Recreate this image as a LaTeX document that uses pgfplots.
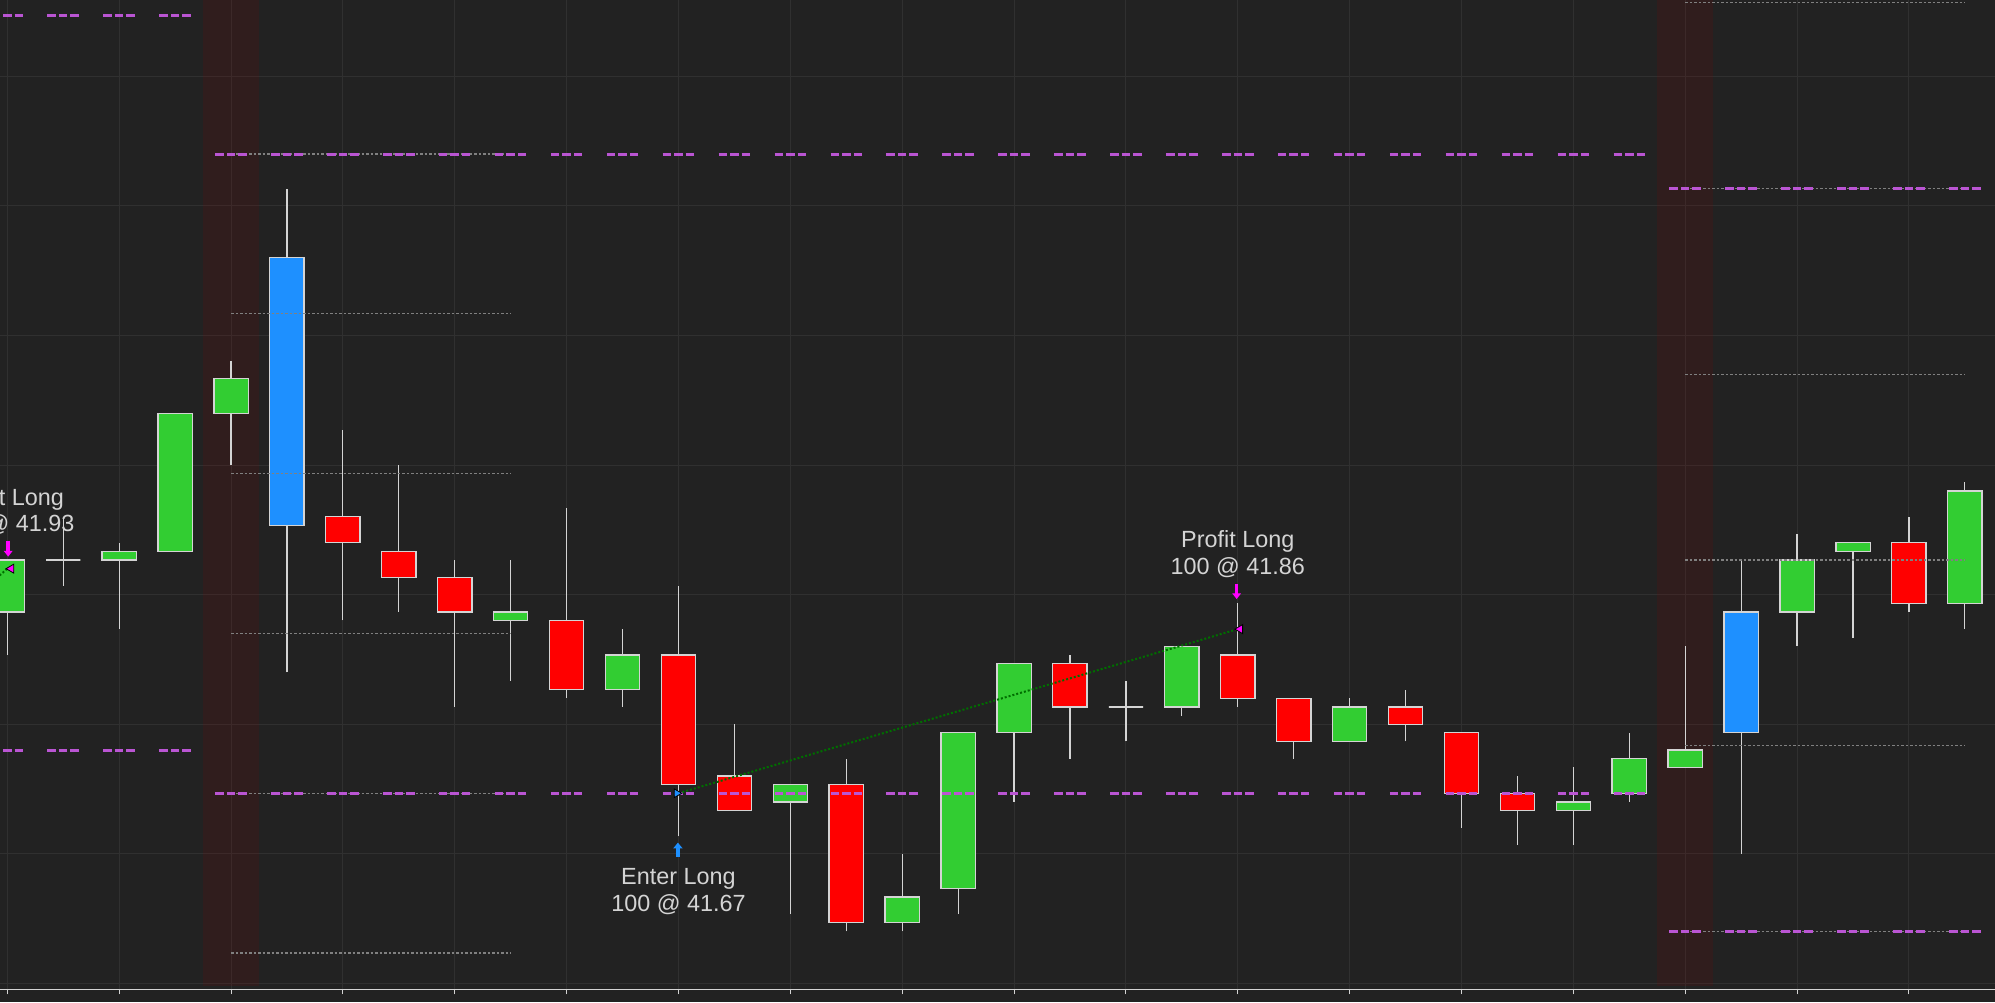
\documentclass[border=0pt]{standalone}
\usepackage{pgfplots}
\pgfplotsset{compat=1.18}
\usepackage{fontspec}
\setmainfont{Liberation Sans}
\usetikzlibrary{arrows.meta}
\definecolor{bgc}{RGB}{34,34,34}
\definecolor{gridc}{RGB}{48,48,48}
\definecolor{wickc}{RGB}{212,212,212}
\definecolor{upg}{RGB}{50,205,50}
\definecolor{dnr}{RGB}{255,0,0}
\definecolor{sigb}{RGB}{30,144,255}
\definecolor{magc}{RGB}{186,85,211}
\definecolor{greyl}{RGB}{128,128,128}
\definecolor{bandc}{RGB}{139,0,0}
\definecolor{tradec}{RGB}{0,110,0}
\definecolor{exitm}{RGB}{255,0,255}
\definecolor{txtc}{RGB}{212,212,212}
\newcommand\lbl{\fontsize{11.7pt}{14pt}\selectfont}
% candle: index, open, high, low, close, colour
\newcommand{\candle}[6]{%
  \pgfmathsetmacro\xl{#1-0.3067}%
  \pgfmathsetmacro\xr{#1+0.3067}%
  \edef\tmpcandle{%
    \noexpand\addplot[draw=wickc, line width=0.6pt] coordinates {(#1,#4) (#1,#3)};
    \noexpand\addplot[draw=wickc, fill=#6, line width=0.65pt] coordinates {(\xl,#2) (\xr,#2) (\xr,#5) (\xl,#5)} -- cycle;
  }%
  \tmpcandle
}
\begin{document}
\begin{tikzpicture}
\fill[bgc] (0,-6.35pt) rectangle (997.5pt,494.65pt);
\begin{axis}[
  at={(0,0)}, anchor=south west,
  scale only axis, width=997.5pt, height=494.65pt,
  xmin=-0.1305, xmax=35.539, ymin=41.44304, ymax=42.58833,
  axis x line*=bottom, axis y line*=left,
  x axis line style={draw=wickc, line width=0.65pt, -},
  y axis line style={draw=none},
  xtick={0,2,...,34},
  ytick={41.45,41.60,41.75,41.90,42.05,42.20,42.35,42.50},
  xticklabel=\empty, yticklabel=\empty,
  tick align=outside, major tick length=2.5pt,
  xtick style={draw=wickc, line width=0.5pt},
  ytick style={draw=none},
  grid=major, major grid style={draw=gridc, line width=0.5pt},
  clip=true,
  greyline/.style={draw=greyl, line width=0.6pt, dash pattern=on 1.25pt off 1pt},
  magline/.style={draw=magc, line width=1.5pt, dash pattern=on 4.25pt off 1.5pt on 4.25pt off 1.5pt on 4.25pt off 12.215pt},
]
% session bands
\addplot[fill=bandc, fill opacity=0.143, draw=none] coordinates {(3.5,41.4465) (4.5,41.4465) (4.5,42.6) (3.5,42.6)} -- cycle;
\addplot[fill=bandc, fill opacity=0.143, draw=none] coordinates {(29.5,41.4465) (30.5,41.4465) (30.5,42.6) (29.5,42.6)} -- cycle;

% candles
\candle{0}{41.88}{41.94}{41.83}{41.94}{upg}
\candle{1}{41.94}{41.99}{41.91}{41.94}{upg}
\candle{2}{41.94}{41.96}{41.86}{41.95}{upg}
\candle{3}{41.95}{42.11}{41.95}{42.11}{upg}
\candle{4}{42.11}{42.17}{42.05}{42.15}{upg}
\candle{5}{41.98}{42.37}{41.81}{42.29}{sigb}
\candle{6}{41.99}{42.09}{41.87}{41.96}{dnr}
\candle{7}{41.95}{42.05}{41.88}{41.92}{dnr}
\candle{8}{41.92}{41.94}{41.77}{41.88}{dnr}
\candle{9}{41.87}{41.94}{41.80}{41.88}{upg}
\candle{10}{41.87}{42.00}{41.78}{41.79}{dnr}
\candle{11}{41.79}{41.86}{41.77}{41.83}{upg}
\candle{12}{41.83}{41.91}{41.62}{41.68}{dnr}
\candle{13}{41.69}{41.75}{41.65}{41.65}{dnr}
\candle{14}{41.66}{41.68}{41.53}{41.68}{upg}
\candle{15}{41.68}{41.71}{41.51}{41.52}{dnr}
\candle{16}{41.52}{41.60}{41.51}{41.55}{upg}
\candle{17}{41.56}{41.74}{41.53}{41.74}{upg}
\candle{18}{41.74}{41.82}{41.66}{41.82}{upg}
\candle{19}{41.82}{41.83}{41.71}{41.77}{dnr}
\candle{20}{41.77}{41.80}{41.73}{41.77}{upg}
\candle{21}{41.77}{41.84}{41.76}{41.84}{upg}
\candle{22}{41.83}{41.89}{41.77}{41.78}{dnr}
\candle{23}{41.78}{41.78}{41.71}{41.73}{dnr}
\candle{24}{41.73}{41.78}{41.73}{41.77}{upg}
\candle{25}{41.77}{41.79}{41.73}{41.75}{dnr}
\candle{26}{41.74}{41.74}{41.63}{41.67}{dnr}
\candle{27}{41.67}{41.69}{41.61}{41.65}{dnr}
\candle{28}{41.65}{41.70}{41.61}{41.66}{upg}
\candle{29}{41.67}{41.74}{41.66}{41.71}{upg}
\candle{30}{41.70}{41.84}{41.70}{41.72}{upg}
\candle{31}{41.74}{41.94}{41.60}{41.88}{sigb}
\candle{32}{41.88}{41.97}{41.84}{41.94}{upg}
\candle{33}{41.95}{41.96}{41.85}{41.96}{upg}
\candle{34}{41.96}{41.99}{41.88}{41.89}{dnr}
\candle{35}{41.89}{42.03}{41.86}{42.02}{upg}

% grey level lines, session starting at bar 4
\addplot[greyline] coordinates {(4,42.410) (9,42.410)};
\addplot[greyline] coordinates {(4,42.225) (9,42.225)};
\addplot[greyline] coordinates {(4,42.040) (9,42.040)};
\addplot[greyline] coordinates {(4,41.855) (9,41.855)};
\addplot[greyline] coordinates {(4,41.670) (9,41.670)};
\addplot[greyline] coordinates {(4,41.485) (9,41.485)};
% grey level lines, session starting at bar 30
\addplot[greyline] coordinates {(30,42.585) (35,42.585)};
\addplot[greyline] coordinates {(30,42.370) (35,42.370)};
\addplot[greyline] coordinates {(30,42.155) (35,42.155)};
\addplot[greyline] coordinates {(30,41.940) (35,41.940)};
\addplot[greyline] coordinates {(30,41.725) (35,41.725)};
\addplot[greyline] coordinates {(30,41.510) (35,41.510)};

% prior session high / low
\addplot[magline] coordinates {(-0.2816,42.57) (3.2816,42.57)};
\addplot[magline] coordinates {(-0.2816,41.72) (3.2816,41.72)};
\addplot[magline] coordinates {(3.7184,42.41) (29.2816,42.41)};
\addplot[magline] coordinates {(3.7184,41.67) (29.2816,41.67)};
\addplot[magline] coordinates {(29.7184,42.37) (35.2816,42.37)};
\addplot[magline] coordinates {(29.7184,41.51) (35.2816,41.51)};

% trade lines
\addplot[draw=tradec, line width=1pt, dash pattern=on 1pt off 1pt] coordinates {(12,41.67) (22,41.86)};
\addplot[draw=tradec, line width=1pt, dash pattern=on 1pt off 1pt] coordinates {(-0.3,41.913) (0.0,41.93)};

% execution markers
\addplot[only marks, mark=triangle*, mark size=2.5pt, mark options={rotate=-90, fill=sigb, draw=none}] coordinates {(11.97,41.67)};
\addplot[only marks, mark=triangle*, mark size=2.6pt, mark options={rotate=90, fill=exitm, draw=none}] coordinates {(22.04,41.86) (0.07,41.93)};

% arrows
\addplot[draw=exitm, line width=1.8pt, -{Triangle[length=2.9pt 0, width=4.3pt 0]}] coordinates {(21.98,41.9122) (21.98,41.8948)};
\addplot[draw=exitm, line width=1.8pt, -{Triangle[length=2.9pt 0, width=4.3pt 0]}] coordinates {(0.016,41.9624) (0.016,41.9439)};
\addplot[draw=sigb, line width=1.8pt, -{Triangle[length=2.9pt 0, width=4.6pt 0]}] coordinates {(11.99,41.5966) (11.99,41.6128)};

% labels
\node[anchor=base, inner sep=0pt, text=txtc, font=\lbl] at (axis cs:0,42.0037) {Profit Long};
\node[anchor=base, inner sep=0pt, text=txtc, font=\lbl] at (axis cs:0,41.9736) {100 @ 41.93};
\node[anchor=base, inner sep=0pt, text=txtc, font=\lbl] at (axis cs:22,41.9547) {Profit Long};
\node[anchor=base, inner sep=0pt, text=txtc, font=\lbl] at (axis cs:22,41.9238) {100 @ 41.86};
\node[anchor=base, inner sep=0pt, text=txtc, font=\lbl] at (axis cs:12,41.5649) {Enter Long};
\node[anchor=base, inner sep=0pt, text=txtc, font=\lbl] at (axis cs:12,41.5331) {100 @ 41.67};
\end{axis}
\pgfresetboundingbox
\path[use as bounding box] (0,-6.35pt) rectangle (997.5pt,494.65pt);
\end{tikzpicture}
\end{document}
